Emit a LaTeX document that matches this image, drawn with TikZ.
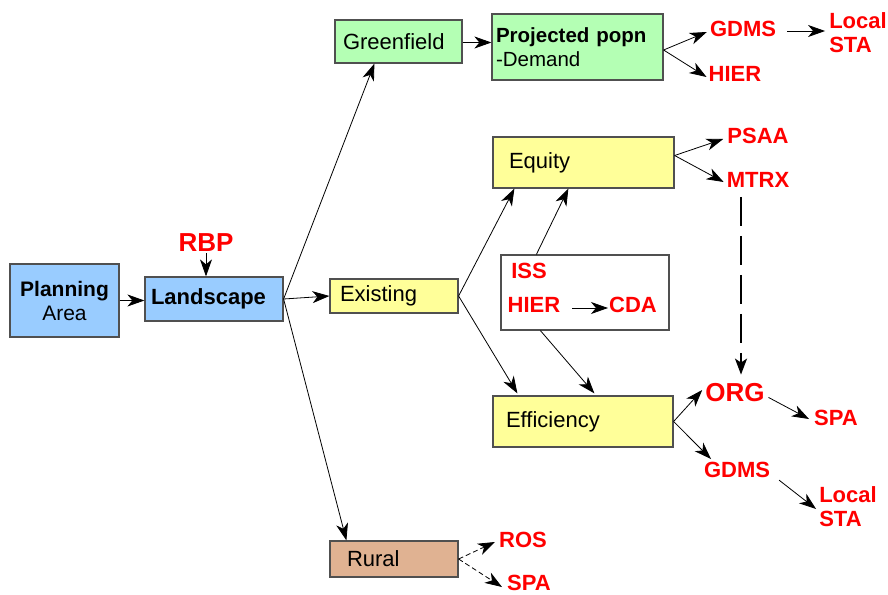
\documentclass[tikz,border=0pt]{standalone}
\usepackage{fontspec}
\setmainfont{Liberation Sans}
\usetikzlibrary{arrows.meta,calc}
\definecolor{boxblue}{RGB}{153,204,255}
\definecolor{boxgreen}{RGB}{180,255,180}
\definecolor{boxyellow}{RGB}{255,255,153}
\definecolor{boxtan}{RGB}{224,178,146}
\definecolor{boxline}{RGB}{80,80,80}
\begin{document}
\begin{tikzpicture}[x=1pt,y=-1pt,
  every node/.style={font=\fontsize{22}{24}\selectfont},
  box/.style={draw=boxline, line width=1.2pt, rectangle, inner ysep=0pt, align=left},
  tag/.style={text=red, font=\fontsize{22}{24}\selectfont\bfseries, inner sep=1pt, align=left},
  bigtag/.style={tag, font=\fontsize{26}{28}\selectfont\bfseries},
  arr/.style={-{Stealth[length=17pt,width=12pt,inset=5pt]}, line width=0.8pt},
  dasharr/.style={arr, dash pattern=on 5pt off 3pt},
]
\useasboundingbox (0,0) rectangle (888,594);

% boxes
\node[box, fill=boxblue, minimum height=73, text width=109, inner xsep=0pt, align=center, font=\fontsize{21}{24}\selectfont] (plan) at (64.5,300.5) {\textbf{Planning}\\Area};
\node[box, fill=boxblue, minimum height=44, text width=126, inner xsep=6pt] (land) at (214,299) {\textbf{Landscape}};
\node[box, fill=boxgreen, minimum height=43, text width=111, inner xsep=8pt] (green) at (398.5,41.5) {Greenfield};
\node[box, fill=boxgreen, minimum height=66, text width=163, inner xsep=4pt, font=\fontsize{20.5}{24}\selectfont] (proj) at (577.5,47) {\textbf{Projected popn}\\-Demand};
\node[box, fill=boxyellow, minimum height=34, text width=108, inner xsep=10pt] (exist) at (394,296) {Existing};
\node[box, fill=boxyellow, minimum height=51, text width=149, inner xsep=16pt] (equity) at (583.5,162.5) {Equity};
\node[box, fill=boxyellow, minimum height=51, text width=154, inner xsep=13pt] (eff) at (583,421.5) {Efficiency};
\node[box, fill=boxtan, minimum height=36, text width=94, inner xsep=17pt] (rural) at (394,559) {Rural};
\node[draw=boxline, line width=1.2pt, fill=white, minimum width=168, minimum height=75, inner sep=0pt] (issbox) at (585,292.5) {};

% red labels
\node[bigtag] (rbp) at (206,243) {RBP};
\node[tag] (gdms1) at (743,29) {GDMS};
\node[tag] (local1) at (858,33) {Local\\STA};
\node[tag] (hier1) at (735,74) {HIER};
\node[tag] (psaa) at (758,136) {PSAA};
\node[tag] (mtrx) at (758,180) {MTRX};
\node[tag] (iss) at (529,271) {ISS};
\node[tag] (hier2) at (534,305) {HIER};
\node[tag] (cda) at (633,305) {CDA};
\node[bigtag] (org) at (735,393) {ORG};
\node[tag] (spa1) at (836,418) {SPA};
\node[tag] (gdms2) at (737,470) {GDMS};
\node[tag] (local2) at (848,507) {Local\\STA};
\node[tag] (ros) at (523,540) {ROS};
\node[tag] (spa2) at (529,583) {SPA};

% connectors
\draw[arr] (rbp.south) -- (rbp.south |- land.north);
\draw[arr] (plan.east) -- (plan.east -| land.west);
\draw[arr] (land.east) -- ([xshift=40pt]green.south west);
\draw[arr] (land.east) -- (exist.west);
\draw[arr] (land.east) -- ([xshift=17pt]rural.north west);
\draw[arr] ([yshift=-1pt]green.east) -- ([yshift=-1pt]green.east -| proj.west);
\draw[arr] ([yshift=-3pt]proj.east) -- ([xshift=-2pt,yshift=-3pt]gdms1.west);
\draw[arr] ([yshift=-3pt]proj.east) -- ([xshift=-1pt,yshift=-3pt]hier1.west);
\draw[arr, shorten <=10pt, shorten >=3pt] ([yshift=-2pt]gdms1.east) -- ([yshift=-2pt]gdms1.east -| local1.west);

\draw[arr] (exist.east) -- ([xshift=22pt]equity.south west);
\draw[arr] (exist.east) -- ([xshift=25pt,yshift=2pt]eff.north west);
\draw[arr] ([xshift=36pt]issbox.north west) -- ([xshift=76pt]equity.south west);
\draw[arr] ([xshift=40pt]issbox.south west) -- ([xshift=102pt,yshift=2pt]eff.north west);
\draw[arr, shorten <=11pt] ([yshift=-3pt]hier2.east) -- ([yshift=-3pt]hier2.east -| cda.west);

\draw[arr] ([yshift=7pt]equity.east) -- ([xshift=-3pt,yshift=-3pt]psaa.west);
\draw[arr] ([yshift=7pt]equity.east) -- ([xshift=-2pt,yshift=-2pt]mtrx.west);
\draw[-{Stealth[length=16pt,width=12pt,inset=4pt]}, line width=2pt, dash pattern=on 29pt off 10pt, shorten <=8pt, shorten >=8pt]
  ([xshift=-17pt]mtrx.south) -- ([xshift=-17pt]mtrx.south |- org.north);

\draw[arr] (eff.east) -- ([xshift=-2pt,yshift=3pt]org.west);
\draw[arr, shorten <=3pt] ([yshift=-3pt]org.east) -- ([xshift=-4pt,yshift=-1pt]spa1.west);
\draw[arr] (eff.east) -- ([xshift=-26pt,yshift=2pt]gdms2.north);
\draw[arr, shorten <=10pt] ([yshift=-4pt]gdms2.east) -- ([xshift=-2pt,yshift=-2pt]local2.west);

\draw[dasharr] (rural.east) -- ([xshift=-3pt,yshift=-2pt]ros.west);
\draw[dasharr] (rural.east) -- ([xshift=-4pt,yshift=-4pt]spa2.west);
\end{tikzpicture}
\end{document}
